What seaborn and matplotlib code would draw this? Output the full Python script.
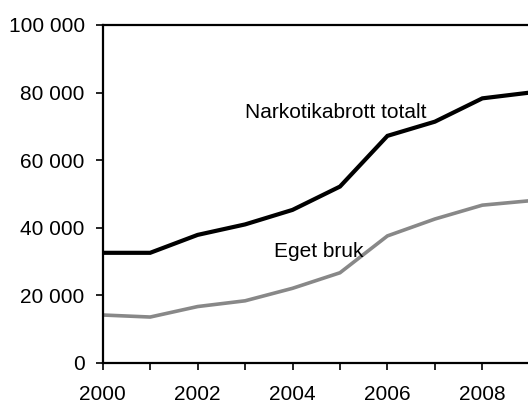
import matplotlib
matplotlib.use("Agg")
import matplotlib.pyplot as plt
import seaborn as sns
import pandas as pd

years = [2000, 2001, 2002, 2003, 2004, 2005, 2006, 2007, 2008, 2009]
totalt = [32600, 32600, 37900, 41000, 45300, 52200, 67200, 71400, 78300, 80000]
eget_bruk = [14200, 13600, 16700, 18400, 22100, 26700, 37600, 42600, 46700, 48000]
series_names = ["Narkotikabrott totalt", "Eget bruk"]
y_ticks = [0, 20000, 40000, 60000, 80000, 100000]
x_ticks = [2000, 2001, 2002, 2003, 2004, 2005, 2006, 2007, 2008]
x_labels = ["2000", "", "2002", "", "2004", "", "2006", "", "2008"]

df = pd.DataFrame({
    "year": years * 2,
    "value": totalt + eget_bruk,
    "series": [series_names[0]] * len(years) + [series_names[1]] * len(years),
})

sns.set_style("ticks")
plt.rcParams["font.family"] = ["Liberation Sans", "DejaVu Sans"]

fig = plt.figure(figsize=(5.28, 4.03), dpi=100)
ax = fig.add_axes([102.7 / 528, 1 - 363 / 403, (529.8 - 102.7) / 528, (363 - 25) / 403])

sns.lineplot(data=df, x="year", y="value", hue="series", ax=ax,
             palette={series_names[0]: "#000000", series_names[1]: "#888888"},
             legend=False)
for line, lw in zip(ax.lines, [3.0, 2.6]):
    line.set_linewidth(lw)
    line.set_solid_joinstyle("miter")

ax.set_xlim(2000, 2009)
ax.set_ylim(0, 100000)
ax.set_yticks(y_ticks)
ax.set_yticklabels([f"{v:,}".replace(",", " ") for v in y_ticks])
ax.set_xticks(x_ticks)
ax.set_xticklabels(x_labels)
ax.set_xlabel("")
ax.set_ylabel("")
ax.tick_params(axis="both", labelsize=15, length=5, width=1.2, color="black",
               labelcolor="black")
ax.tick_params(axis="y", pad=8)
ax.tick_params(axis="x", pad=11)
for s in ["left", "bottom", "top", "right"]:
    ax.spines[s].set_visible(True)
    ax.spines[s].set_color("black")
    ax.spines[s].set_linewidth(1.6)

ax.text(2003.0, 72400, series_names[0], fontsize=15, va="baseline", ha="left", color="black")
ax.text(2003.6, 31270, series_names[1], fontsize=15, va="baseline", ha="left", color="black")

fig.savefig("out.png", dpi=100)
